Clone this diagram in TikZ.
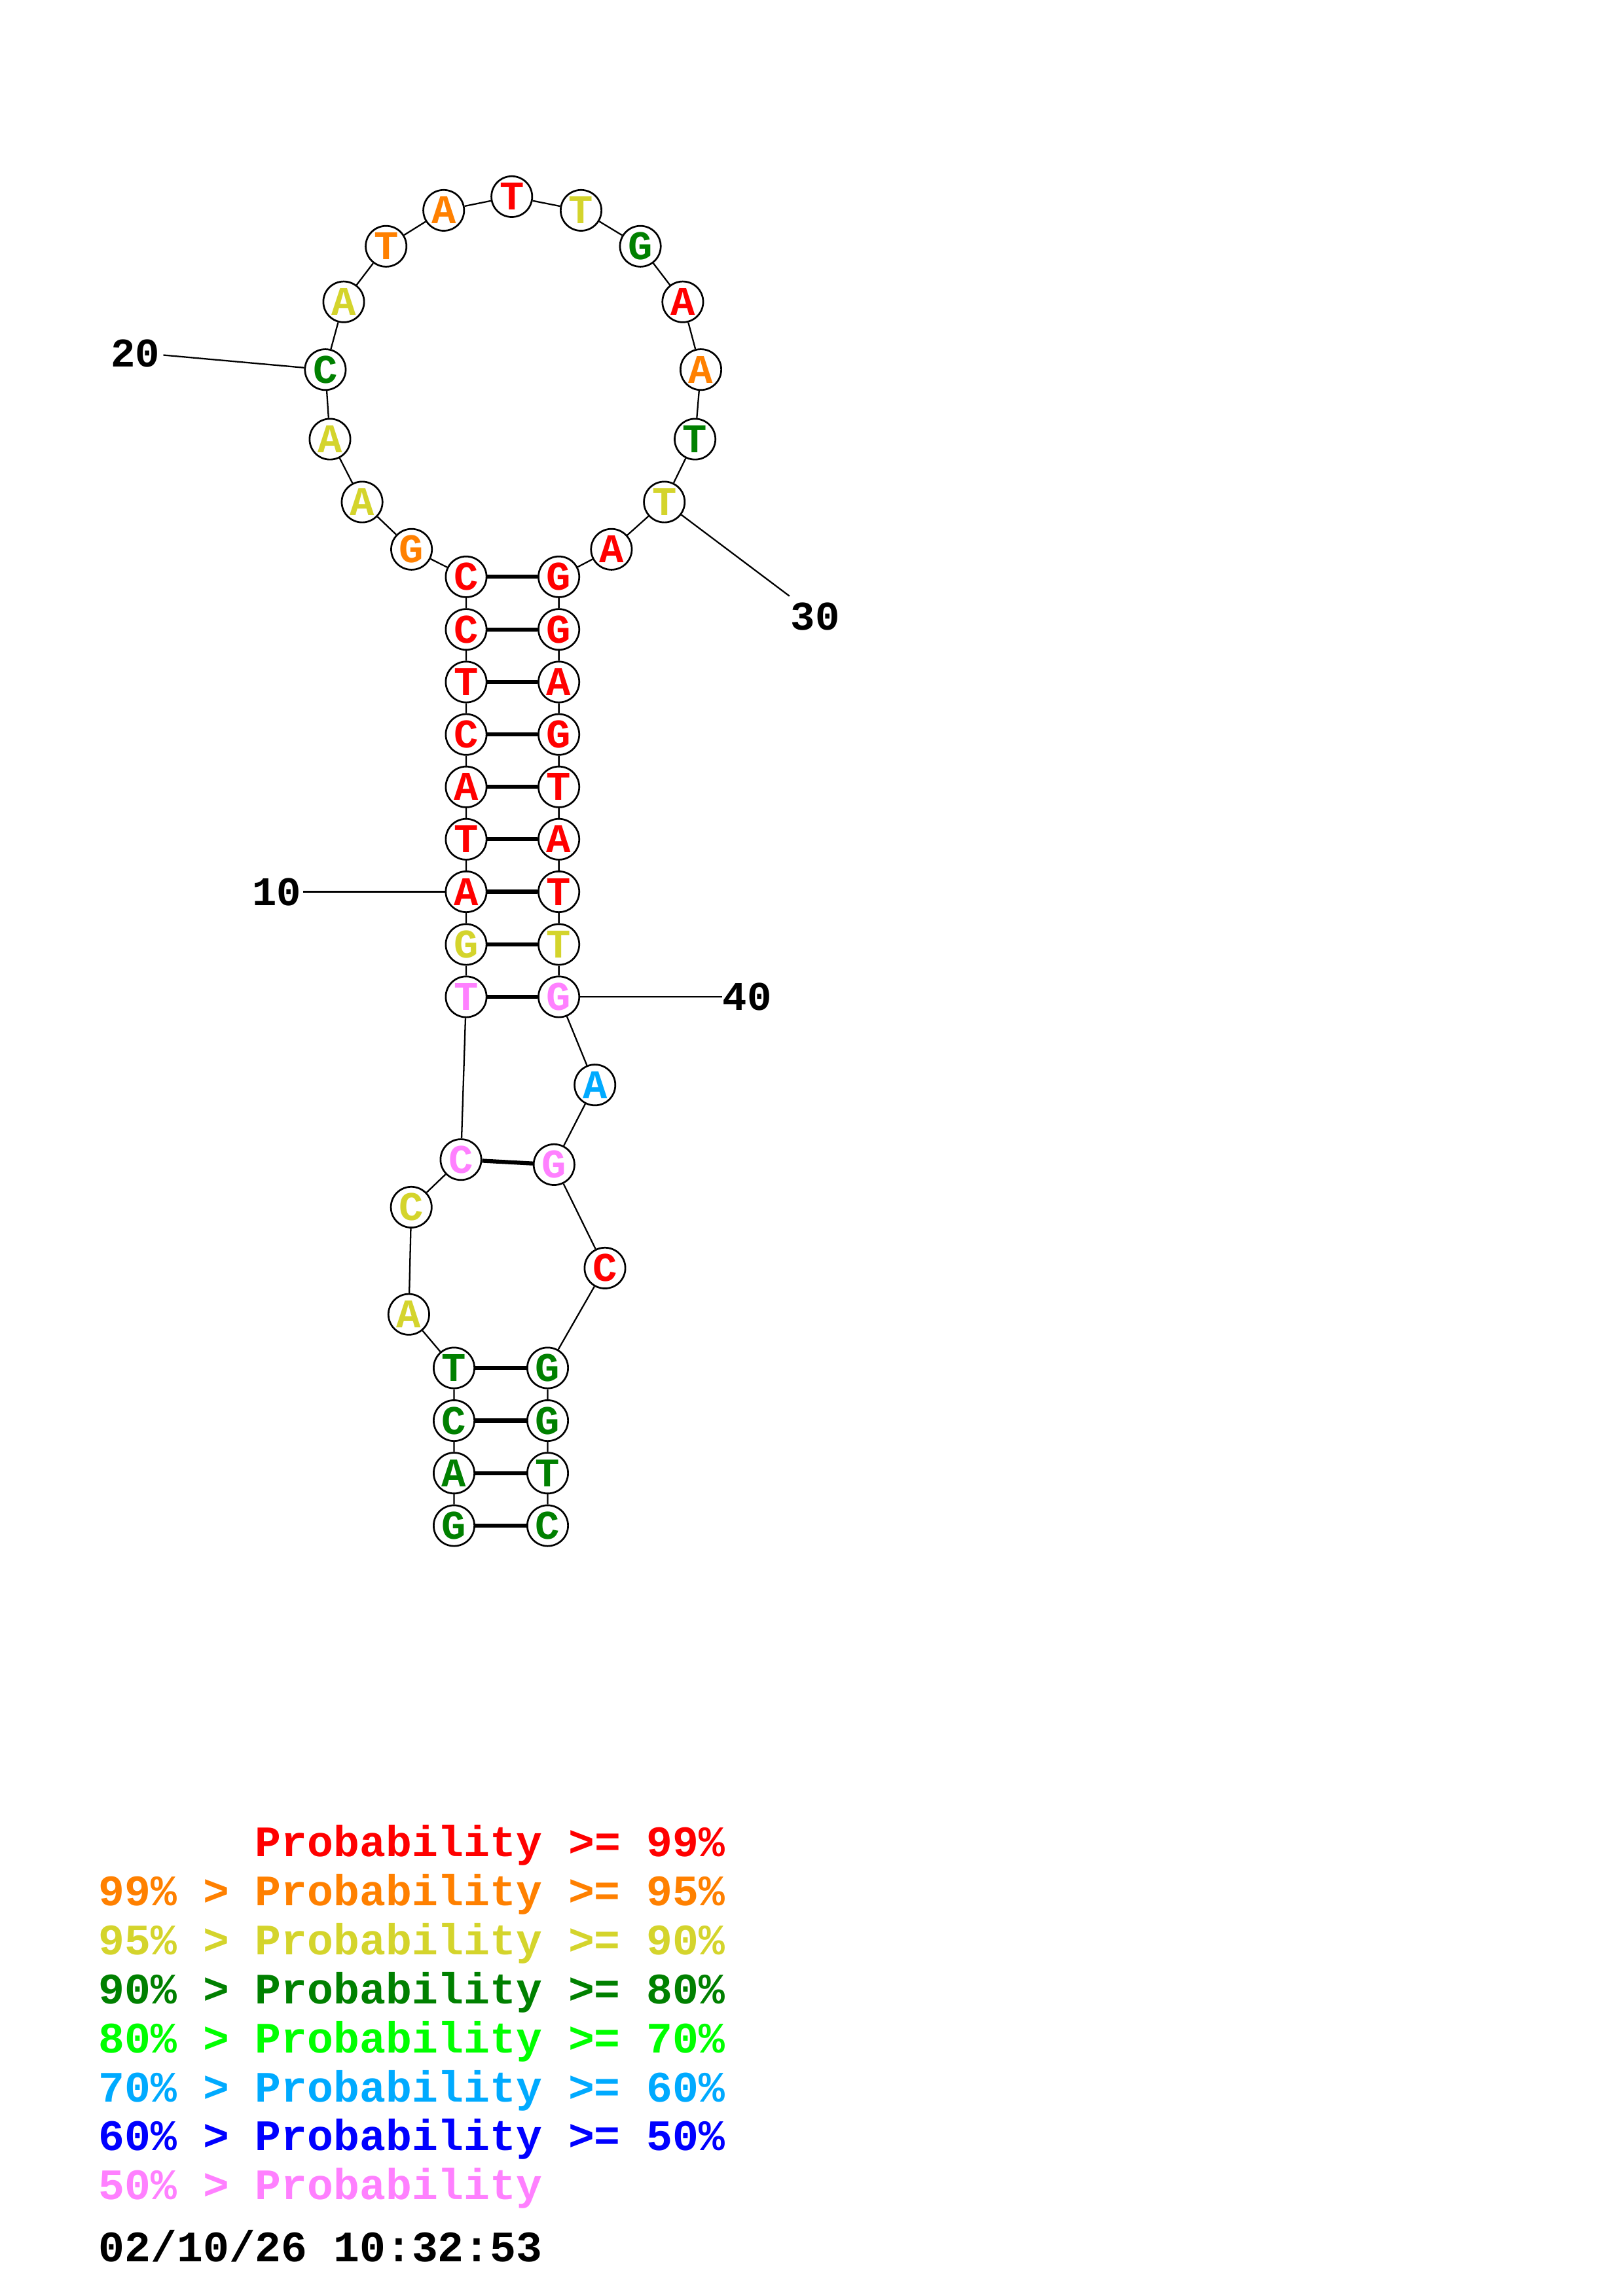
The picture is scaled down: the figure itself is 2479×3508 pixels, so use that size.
\documentclass[tikz,border=0pt]{standalone}
\usepackage{fontspec}
\setmonofont{Liberation Mono}
\usepackage{tikz}
\usetikzlibrary{arrows}

\definecolor{pninetynine}{RGB}{255,0,0}
\definecolor{pninetyfive}{RGB}{255,128,0}
\definecolor{pninety}{RGB}{212,212,44}
\definecolor{peighty}{RGB}{0,128,0}
\definecolor{pseventy}{RGB}{0,255,0}
\definecolor{psixty}{RGB}{0,170,255}
\definecolor{pfifty}{RGB}{0,0,255}
\definecolor{plow}{RGB}{255,128,255}

\begin{document}
\begin{tikzpicture}[x=0.2409pt,y=-0.2409pt,
  nt/.style={circle,draw=black,fill=white,line width=0.65pt,minimum size=15pt,inner sep=0pt,
             font=\ttfamily\bfseries\fontsize{15}{15}\selectfont},
  pa/.style={nt,text=pninetynine},
  pb/.style={nt,text=pninetyfive},
  pc/.style={nt,text=pninety},
  pd/.style={nt,text=peighty},
  pe/.style={nt,text=psixty},
  pf/.style={nt,text=plow},
  numlab/.style={font=\ttfamily\bfseries\fontsize{15}{15}\selectfont,inner sep=0pt},
  backbone/.style={line width=0.55pt},
  bond/.style={line width=1.5pt},
  legend/.style={anchor=base west,inner sep=0pt,font=\ttfamily\bfseries\fontsize{16}{16}\selectfont}]
  \useasboundingbox (0,0) rectangle (2479,3508);

  \node[pd] (n1)  at (693.5,2331)  {G};
  \node[pd] (n2)  at (693.5,2250.7) {A};
  \node[pd] (n3)  at (693.5,2170.5) {C};
  \node[pd] (n4)  at (693.5,2090)  {T};
  \node[pc] (n5)  at (624.4,2008.2) {A};
  \node[pc] (n6)  at (628.2,1844.4) {C};
  \node[pf] (n7)  at (704,1771.7)  {C};
  \node[pf] (n8)  at (712,1523)    {T};
  \node[pc] (n9)  at (712,1443)    {G};
  \node[pa] (n10) at (712,1362.5)  {A};
  \node[pa] (n11) at (712,1282.3)  {T};
  \node[pa] (n12) at (712,1202.3)  {A};
  \node[pa] (n13) at (712,1122.2)  {C};
  \node[pa] (n14) at (712,1042)    {T};
  \node[pa] (n15) at (712,961.7)   {C};
  \node[pa] (n16) at (712,881.3)   {C};
  \node[pb] (n17) at (628.6,839.3) {G};
  \node[pc] (n18) at (553.1,767)   {A};
  \node[pc] (n19) at (504,671)     {A};
  \node[pd] (n20) at (496.9,564.7) {C};
  \node[pc] (n21) at (525,461.2)   {A};
  \node[pb] (n22) at (589.7,376.3) {T};
  \node[pb] (n23) at (677.7,321.4) {A};
  \node[pa] (n24) at (781.7,300.4) {T};
  \node[pc] (n25) at (887.5,321.4) {T};
  \node[pd] (n26) at (978.1,376.3) {G};
  \node[pa] (n27) at (1042.9,461.2) {A};
  \node[pb] (n28) at (1070.5,564.7) {A};
  \node[pd] (n29) at (1061.6,671)  {T};
  \node[pc] (n30) at (1014.7,767)  {T};
  \node[pa] (n31) at (933.9,839.3) {A};
  \node[pa] (n32) at (853.6,881.3) {G};
  \node[pa] (n33) at (853.6,961.7) {G};
  \node[pa] (n34) at (853.6,1042)  {A};
  \node[pa] (n35) at (853.6,1122.2) {G};
  \node[pa] (n36) at (853.6,1202.3) {T};
  \node[pa] (n37) at (853.6,1282.3) {A};
  \node[pa] (n38) at (853.6,1362.5) {T};
  \node[pc] (n39) at (853.6,1443)  {T};
  \node[pf] (n40) at (853.6,1523)  {G};
  \node[pe] (n41) at (908.7,1657.7) {A};
  \node[pf] (n42) at (846.3,1779.4) {G};
  \node[pa] (n43) at (924,1937.4)  {C};
  \node[pd] (n44) at (836.5,2090)  {G};
  \node[pd] (n45) at (836.5,2170.5) {G};
  \node[pd] (n46) at (836.5,2250.7) {T};
  \node[pd] (n47) at (836.5,2331)  {C};

  \draw[backbone] (n1) -- (n2) -- (n3) -- (n4) -- (n5) -- (n6) -- (n7) -- (n8) -- (n9) -- (n10)
    -- (n11) -- (n12) -- (n13) -- (n14) -- (n15) -- (n16) -- (n17) -- (n18) -- (n19) -- (n20)
    -- (n21) -- (n22) -- (n23) -- (n24) -- (n25) -- (n26) -- (n27) -- (n28) -- (n29) -- (n30)
    -- (n31) -- (n32) -- (n33) -- (n34) -- (n35) -- (n36) -- (n37) -- (n38) -- (n39) -- (n40)
    -- (n41) -- (n42) -- (n43) -- (n44) -- (n45) -- (n46) -- (n47);

  \path[bond]
        (n1)  edge (n47)
        (n2)  edge (n46)
        (n3)  edge (n45)
        (n4)  edge (n44)
        (n7)  edge (n42)
        (n8)  edge (n40)
        (n9)  edge (n39)
        (n10) edge (n38)
        (n11) edge (n37)
        (n12) edge (n36)
        (n13) edge (n35)
        (n14) edge (n34)
        (n15) edge (n33)
        (n16) edge (n32);

  \coordinate (t10) at (463,1362.5);
  \coordinate (t20) at (249.5,542.5);
  \coordinate (t30) at (1205.8,910.7);
  \coordinate (t40) at (1102.7,1523);
  \node[numlab] (lab10) at (423,1362.5) {10};
  \node[numlab] (lab20) at (207,540)    {20};
  \node[numlab] (lab30) at (1245,942)   {30};
  \node[numlab] (lab40) at (1141,1523)  {40};
  \draw[backbone] (t10) -- (n10);
  \draw[backbone] (t20) -- (n20);
  \draw[backbone] (t30) -- (n30);
  \draw[backbone] (t40) -- (n40);

  \node[legend,text=pninetynine] (leg1) at (150,2836) {\phantom{99\% > }Probability >= 99\%};
  \node[legend,text=pninetyfive] (leg2) at (150,2911) {99\% > Probability >= 95\%};
  \node[legend,text=pninety]     (leg3) at (150,2986) {95\% > Probability >= 90\%};
  \node[legend,text=peighty]     (leg4) at (150,3061) {90\% > Probability >= 80\%};
  \node[legend,text=pseventy]    (leg5) at (150,3136) {80\% > Probability >= 70\%};
  \node[legend,text=psixty]      (leg6) at (150,3211) {70\% > Probability >= 60\%};
  \node[legend,text=pfifty]      (leg7) at (150,3285) {60\% > Probability >= 50\%};
  \node[legend,text=plow]        (leg8) at (150,3360) {50\% > Probability};
  \node[legend,text=black]       (date) at (150,3455) {02/10/26 10:32:53};
\end{tikzpicture}
\end{document}
